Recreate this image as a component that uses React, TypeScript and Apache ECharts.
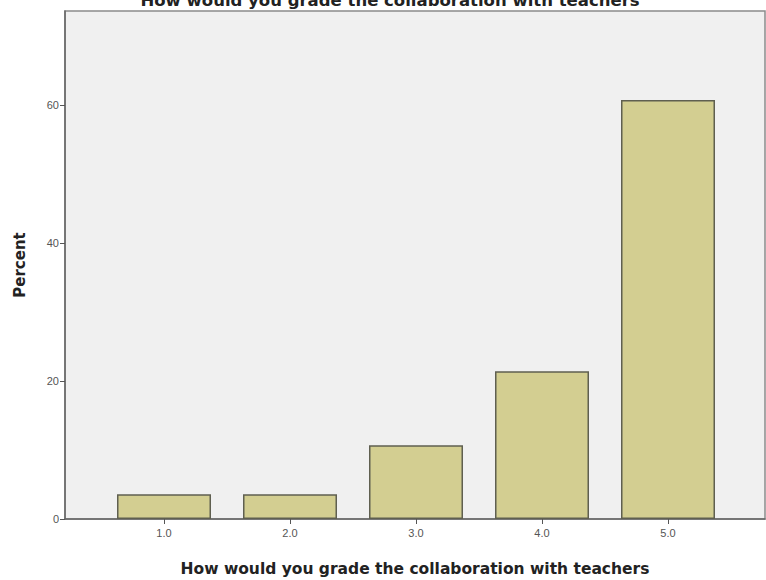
import React, { useEffect, useRef } from "react";
import * as echarts from "echarts";

const categories = ["1.0", "2.0", "3.0", "4.0", "5.0"];
const percents = [3.6, 3.6, 10.7, 21.4, 60.7];
const yTicks = [0, 20, 40, 60];
const titleText = "How would you grade the collaboration with teachers";
const xName = "How would you grade the collaboration with teachers";
const yName = "Percent";

export default function App() {
  const ref = useRef<HTMLDivElement>(null);
  useEffect(() => {
    if (!ref.current) return;
    const chart = echarts.init(ref.current, null, { renderer: "svg" });
    const top = 11;
    const bottom = 580 - 519;
    const yMax = 73.6;
    const boldFont = "DejaVu Sans, Verdana, sans-serif";
    chart.setOption({
      animation: false,
      textStyle: { fontFamily: "Liberation Sans, Arial, sans-serif" },
      title: {
        text: titleText,
        left: 385,
        textAlign: "center",
        top: -13,
        textStyle: { fontSize: 16.5, fontWeight: "bold", color: "#222", fontFamily: boldFont },
      },
      grid: [
        {
          left: 65,
          right: 1,
          top,
          bottom,
          show: true,
          backgroundColor: "#f0f0f0",
          borderColor: "#8a8a8a",
          borderWidth: 1.5,
          outerBoundsMode: "none",
          containLabel: false,
        },
        { left: 101, width: 630, top, bottom, outerBoundsMode: "none", containLabel: false },
      ],
      xAxis: [
        {
          gridIndex: 0,
          type: "value",
          min: 0,
          max: 1,
          axisLine: { show: true, onZero: false, lineStyle: { color: "#666", width: 1.5 } },
          axisTick: { show: false },
          axisLabel: { show: false },
          splitLine: { show: false },
          name: xName,
          nameLocation: "middle",
          nameGap: 42,
          nameTextStyle: { fontSize: 15.5, fontWeight: "bold", color: "#222", fontFamily: boldFont },
        },
        {
          gridIndex: 1,
          type: "category",
          data: categories,
          axisLine: { show: false },
          axisTick: { show: true, alignWithLabel: true, length: 5, lineStyle: { color: "#555" } },
          axisLabel: { fontSize: 11, color: "#555", margin: 8 },
        },
      ],
      yAxis: [
        {
          gridIndex: 0,
          type: "value",
          min: 0,
          max: yMax,
          interval: 20,
          axisLine: { show: true, lineStyle: { color: "#666", width: 1.5 } },
          axisTick: { show: true, length: 5, lineStyle: { color: "#555" } },
          axisLabel: {
            fontSize: 11,
            color: "#555",
            margin: 6,
            showMaxLabel: false,
            formatter: (v: number) => (yTicks.includes(v) ? String(v) : ""),
          },
          splitLine: { show: false },
          name: yName,
          nameLocation: "middle",
          nameGap: 38,
          nameTextStyle: { fontSize: 15, fontWeight: "bold", color: "#222", fontFamily: boldFont },
        },
        {
          gridIndex: 1,
          type: "value",
          min: 0,
          max: yMax,
          show: false,
        },
      ],
      series: [
        {
          type: "bar",
          xAxisIndex: 1,
          yAxisIndex: 1,
          data: percents,
          barWidth: 94,
          itemStyle: { color: "#d3ce91", borderColor: "#5f5f50", borderWidth: 1.5 },
        },
      ],
    });
    return () => chart.dispose();
  }, []);
  return <div ref={ref} style={{ width: 766, height: 580, position: "absolute", left: 0, top: 0 }} />;
}
